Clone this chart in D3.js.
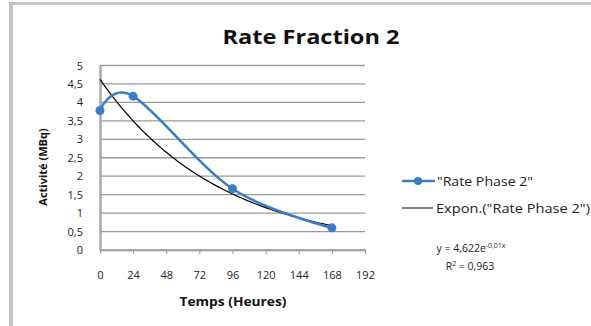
<!DOCTYPE html>
<html><head><meta charset="utf-8">
<script src="https://cdn.jsdelivr.net/npm/d3@7"></script>
<style>body{margin:0;background:#fff}svg{display:block}</style>
</head><body>
<script>
const title = "Rate Fraction 2";
const hours = [0, 24, 96, 168];
const activity = [3.78, 4.17, 1.66, 0.6];
const xTicks = [0, 24, 48, 72, 96, 120, 144, 168, 192];
const yTicks = [0, 0.5, 1, 1.5, 2, 2.5, 3, 3.5, 4, 4.5, 5];
const trendA = 4.622, trendK = 0.0116;
const trendLabel = "y = 4,622e", trendExp = "-0,01x", r2Label = "0,963";
const seriesName = "\"Rate Phase 2\"";
const trendName = "Expon.(\"Rate Phase 2\")";

const W = 591, H = 326;
const svg = d3.select("body").append("svg").attr("width", W).attr("height", H);
const font = "'Open Sans', 'DejaVu Sans', sans-serif";

// chart border
svg.append("rect").attr("x", 9).attr("y", 2).attr("width", 4).attr("height", H).attr("fill", "#c4c4c4");
svg.append("rect").attr("x", 11).attr("y", 2).attr("width", W).attr("height", 3).attr("fill", "#c4c4c4");

const x = d3.scaleLinear().domain([0, 192]).range([100, 365]);
const y = d3.scaleLinear().domain([0, 5]).range([250, 65.5]);

// gridlines
svg.append("g").selectAll("line").data(yTicks).join("line")
  .attr("x1", x(0)).attr("x2", x(192)).attr("y1", d => y(d)).attr("y2", d => y(d))
  .attr("stroke", "#9a9a9a").attr("stroke-width", 1.3);

// x axis
const xa = svg.append("g").attr("transform", `translate(0,${y(0)})`)
  .call(d3.axisBottom(x).tickValues(xTicks).tickSize(4).tickPadding(17).tickFormat(d3.format("d")));
xa.select(".domain").attr("stroke", "#9a9a9a").attr("stroke-width", 1.3);
xa.selectAll(".tick line").attr("stroke", "#9a9a9a");
xa.selectAll("text").attr("font-family", font).attr("font-size", 11).attr("fill", "#222");

// y axis
const ya = svg.append("g").attr("transform", `translate(${x(0)},0)`)
  .call(d3.axisLeft(y).tickValues(yTicks).tickSize(0).tickPadding(17)
    .tickFormat(d => String(d).replace(".", ",")));
ya.select(".domain").attr("stroke", "#a8a8a8").attr("stroke-width", 2.5);
ya.selectAll("text").attr("font-family", font).attr("font-size", 11).attr("fill", "#222");

// trendline
const tx = d3.range(0, 168.01, 2);
svg.append("path").datum(tx)
  .attr("d", d3.line().x(d => x(d)).y(d => y(trendA * Math.exp(-trendK * d))))
  .attr("fill", "none").attr("stroke", "#000").attr("stroke-width", 1.2);

// series
const pts = hours.map((h, i) => [h, activity[i]]);
svg.append("path").datum(pts)
  .attr("d", d3.line().x(d => x(d[0])).y(d => y(d[1])).curve(d3.curveCardinal.tension(0)))
  .attr("fill", "none").attr("stroke", "#3a7cc6").attr("stroke-width", 2.5);
svg.append("g").selectAll("circle").data(pts).join("circle")
  .attr("cx", d => x(d[0])).attr("cy", d => y(d[1])).attr("r", 4.5).attr("fill", "#3a7cc6");

// title
svg.append("text").attr("x", 311).attr("y", 44).attr("text-anchor", "middle")
  .attr("font-family", font).attr("font-weight", "bold").attr("font-size", 20)
  .attr("textLength", 177).attr("lengthAdjust", "spacingAndGlyphs")
  .attr("fill", "#111").text(title);

// axis titles
svg.append("text").attr("transform", "translate(47,167) rotate(-90)").attr("text-anchor", "middle")
  .attr("font-family", font).attr("font-weight", "bold").attr("font-size", 11).attr("fill", "#111").text("Activité (MBq)");
svg.append("text").attr("x", 233).attr("y", 306).attr("text-anchor", "middle")
  .attr("font-family", font).attr("font-weight", "bold").attr("font-size", 12)
  .attr("textLength", 107).attr("lengthAdjust", "spacingAndGlyphs")
  .attr("fill", "#111").text("Temps (Heures)");

// legend
const lg = svg.append("g");
lg.append("line").attr("x1", 402).attr("x2", 435).attr("y1", 181).attr("y2", 181).attr("stroke", "#3a7cc6").attr("stroke-width", 2.5);
lg.append("circle").attr("cx", 418).attr("cy", 181).attr("r", 4).attr("fill", "#3a7cc6");
lg.append("text").attr("x", 437).attr("y", 186).attr("font-family", font).attr("font-size", 12.5)
  .attr("textLength", 96).attr("lengthAdjust", "spacingAndGlyphs")
  .attr("fill", "#222").text(seriesName);
lg.append("line").attr("x1", 402).attr("x2", 433).attr("y1", 208).attr("y2", 208).attr("stroke", "#000").attr("stroke-width", 1);
lg.append("text").attr("x", 436).attr("y", 213).attr("font-family", font).attr("font-size", 12.5)
  .attr("textLength", 154).attr("lengthAdjust", "spacingAndGlyphs")
  .attr("fill", "#222").text(trendName);

// equation
const eq = svg.append("text").attr("x", 471).attr("y", 252).attr("text-anchor", "middle")
  .attr("font-family", font).attr("font-size", 10.5).attr("fill", "#222");
eq.append("tspan").text(trendLabel);
eq.append("tspan").attr("dy", -4).attr("font-size", 7).text(trendExp);
const r2 = svg.append("text").attr("x", 470).attr("y", 270).attr("text-anchor", "middle")
  .attr("font-family", font).attr("font-size", 10.5).attr("fill", "#222");
r2.append("tspan").text("R");
r2.append("tspan").attr("dy", -4).attr("font-size", 7).text("2");
r2.append("tspan").attr("dy", 4).text(" = " + r2Label);
</script>
</body></html>
